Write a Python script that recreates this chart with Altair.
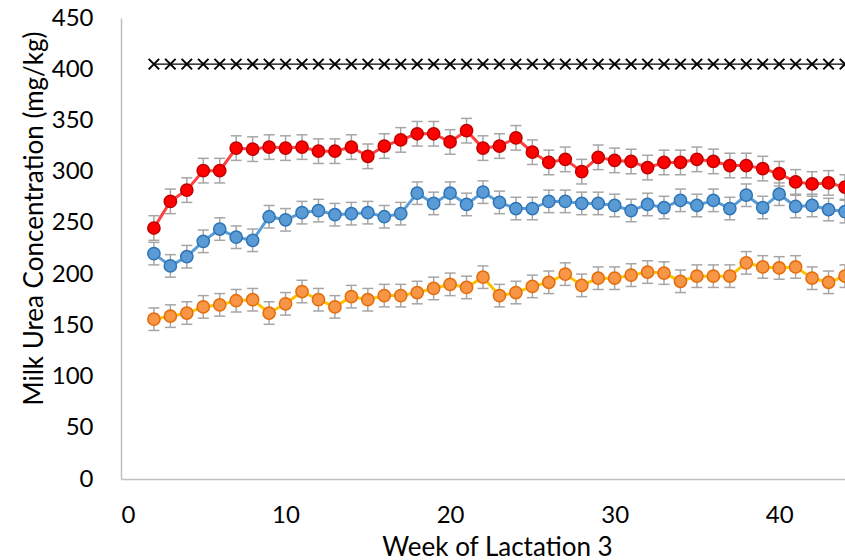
import altair as alt
import pandas as pd

weeks = [2, 3, 4, 5, 6, 7, 8, 9, 10, 11, 12, 13, 14, 15, 16, 17, 18, 19, 20, 21, 22,
         23, 24, 25, 26, 27, 28, 29, 30, 31, 32, 33, 34, 35, 36, 37, 38, 39, 40, 41, 42, 43, 44]
red = [245, 271, 282, 301, 301, 323, 322, 324, 323, 324, 320, 320, 324, 315, 325, 331, 337, 337, 329, 340, 323,
       325, 333, 319, 309, 312, 300, 314, 311, 310, 304, 309, 309, 312, 310, 306, 306, 303, 298, 290, 288, 289, 285]
blue = [220, 208, 217, 232, 244, 236, 233, 256, 253, 260, 262, 258, 259, 260, 256, 259, 279, 269, 279, 268, 280,
        270, 264, 264, 271, 271, 269, 269, 267, 262, 268, 265, 272, 267, 272, 264, 277, 265, 278, 266, 267, 263, 261]
orange = [156, 159, 162, 168, 170, 174, 175, 162, 171, 183, 175, 168, 178, 175, 179, 179, 182, 186, 190, 187, 197,
          179, 182, 188, 192, 200, 189, 196, 196, 199, 202, 201, 193, 198, 198, 198, 211, 207, 206, 207, 196, 192, 198]
reference = [405] * len(weeks)
red_err = 12
blue_err = 11
orange_err = 11

FONT = "Lato"
x_scale = alt.Scale(domain=[0, 44], nice=False, zero=False)
y_scale = alt.Scale(domain=[0, 450], nice=False)

x_axis = alt.Axis(title="Week of Lactation 3", values=[0, 10, 20, 30, 40], grid=False, ticks=False,
                  domainColor="#bfbfbf", domainWidth=1.5, labelFont=FONT, labelFontSize=24,
                  labelColor="black", labelPadding=24, titleFont=FONT, titleFontSize=26,
                  titleFontWeight="normal", titleColor="black", titleX=376, titleY=76,
                  titleBaseline="alphabetic", titleAlign="center")
y_axis = alt.Axis(title="Milk Urea Concentration (mg/kg)", values=list(range(0, 451, 50)), grid=False,
                  ticks=False, domainColor="#bfbfbf", domainWidth=1.5, labelFont=FONT, labelFontSize=24,
                  labelColor="black", labelPadding=28, titleFont=FONT, titleFontSize=26,
                  titleFontWeight="normal", titleColor="black", titleX=-79, titleY=200,
                  titleBaseline="alphabetic", titleAlign="center", titleAngle=270)

X = alt.X("week:Q", scale=x_scale, axis=x_axis)


def Y(field):
    return alt.Y(field, scale=y_scale, axis=y_axis)


def series(vals, err, line_color, fill, stroke):
    df = pd.DataFrame({"week": weeks, "value": vals})
    df["lo"] = df["value"] - err
    df["hi"] = df["value"] + err
    base = alt.Chart(df)
    rule = base.mark_rule(color="#a6a6a6", strokeWidth=1.5, clip=True).encode(x=X, y=Y("lo:Q"), y2="hi:Q")
    cap_lo = base.mark_tick(orient="horizontal", size=11, thickness=1.5, color="#a6a6a6",
                            opacity=1, clip=True).encode(x=X, y=Y("lo:Q"))
    cap_hi = base.mark_tick(orient="horizontal", size=11, thickness=1.5, color="#a6a6a6",
                            opacity=1, clip=True).encode(x=X, y=Y("hi:Q"))
    line = base.mark_line(color=line_color, strokeWidth=3, clip=True).encode(x=X, y=Y("value:Q"))
    pts = base.mark_point(filled=True, shape="circle", size=150, fill=fill, stroke=stroke,
                          strokeWidth=1.5, opacity=1, clip=True).encode(x=X, y=Y("value:Q"))
    return [rule, cap_lo, cap_hi, line, pts]


ref_df = pd.DataFrame({"week": weeks, "value": reference})
ref_line = alt.Chart(ref_df).mark_line(color="black", strokeWidth=1.2, clip=True).encode(x=X, y=Y("value:Q"))
ref_pts = alt.Chart(ref_df).mark_point(shape="M-1,-1L1,1M1,-1L-1,1", size=110, filled=False,
                                       stroke="black", strokeWidth=2, opacity=1, clip=True).encode(
    x=X, y=Y("value:Q"))

layers = [ref_line, ref_pts]
layers += series(orange, orange_err, "#ffc000", "#f79646", "#e46c0a")
layers += series(blue, blue_err, "#5b9bd5", "#5b9bd5", "#2e75b6")
layers += series(red, red_err, "#ff4040", "#ff0000", "#c00000")

chart = alt.layer(*layers).properties(
    width=724, height=461,
    autosize=alt.AutoSizeParams(type="none"),
    padding={"left": 121, "top": 18, "right": 0, "bottom": 81},
    background="white",
).configure_view(stroke=None)

chart.save("out.html", embed_options={"renderer": "svg", "actions": False})
